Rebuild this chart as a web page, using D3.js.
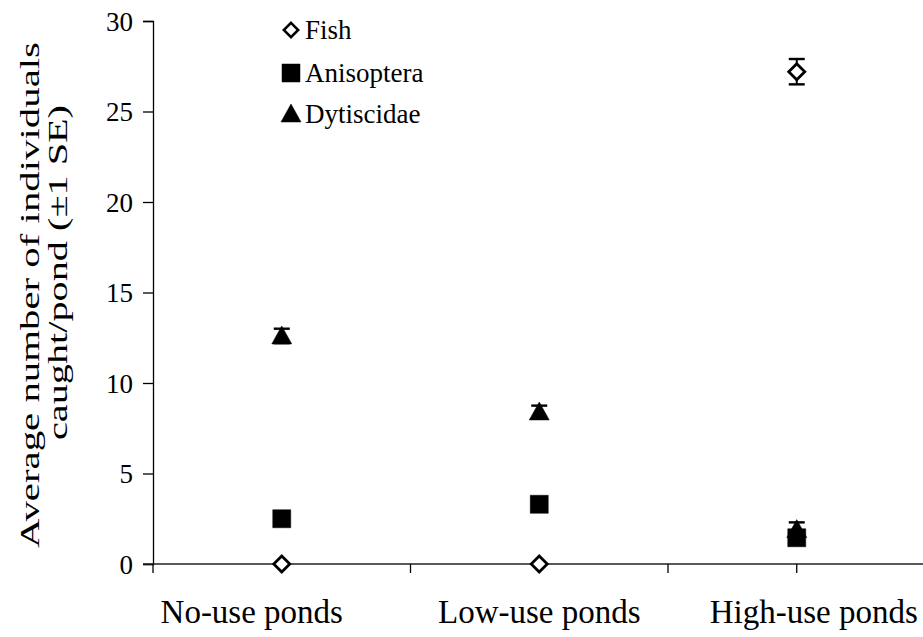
<!DOCTYPE html>
<html>
<head>
<meta charset="utf-8">
<script src="https://cdn.jsdelivr.net/npm/d3@7"></script>
<style>
  body { margin: 0; background: #fff; }
  svg text { font-family: "Liberation Serif", "Times New Roman", serif !important; fill: #000; }
</style>
</head>
<body>
<div id="visualization_container"></div>
<script>
var width = 923;
var height = 637;

// data
var categories = ["No-use ponds", "Low-use ponds", "High-use ponds"];
var fishMean = [0, 0, 27.2];
var fishSE = [0.05, 0.05, 0.7];
var anisMean = [2.5, 3.3, 1.45];
var anisSE = [0.2, 0.2, 0.2];
var dytiMean = [12.6, 8.4, 1.9];
var dytiSE = [0.4, 0.35, 0.4];
var yTicks = [0, 5, 10, 15, 20, 25, 30];

var series = [
    {name: "Fish", mean: fishMean, se: fishSE, shape: "diamond"},
    {name: "Anisoptera", mean: anisMean, se: anisSE, shape: "square"},
    {name: "Dytiscidae", mean: dytiMean, se: dytiSE, shape: "triangle"}
];

var margin = {top: 21, right: 0, bottom: 73, left: 153};

var svg = d3.select("#visualization_container")
    .append("svg")
    .attr("width", width)
    .attr("height", height);

var x = d3.scaleBand()
    .domain(categories)
    .range([margin.left, margin.left + 3 * 257.5]);

var y = d3.scaleLinear()
    .domain([0, 30])
    .range([height - margin.bottom, margin.top]);

// y axis
var yAxis = svg.append("g")
    .attr("transform", "translate(" + margin.left + ",0)")
    .call(d3.axisLeft(y).tickValues(yTicks).tickSize(10).tickPadding(10));
yAxis.select(".domain").attr("stroke", "#000").attr("stroke-width", 1.3);
yAxis.selectAll(".tick line").attr("stroke-width", 1.3);
yAxis.selectAll("text")
    .style("font-size", "27px")
    .attr("dy", "0.34em");

// x axis: ticks between categories
var xAxisG = svg.append("g").attr("transform", "translate(0," + y(0) + ")");
xAxisG.append("line")
    .attr("x1", margin.left - 10).attr("x2", width)
    .attr("y1", 0).attr("y2", 0)
    .attr("stroke", "#222").attr("stroke-width", 1.3);
var tickX = categories.map(c => x(c)).concat([x(categories[2]) + x.bandwidth() / 2]);
xAxisG.selectAll(".xtick")
    .data(tickX)
    .enter().append("line")
    .attr("class", "xtick")
    .attr("x1", d => d).attr("x2", d => d)
    .attr("y1", 0).attr("y2", 9)
    .attr("stroke", "#000").attr("stroke-width", 1.3);
// labels sit a little off-centre in the original
var labelShift = [-30, 0, 17];
xAxisG.selectAll(".xlab")
    .data(categories)
    .enter().append("text")
    .attr("class", "xlab")
    .attr("x", (d, i) => x(d) + x.bandwidth() / 2 + labelShift[i])
    .attr("y", 59)
    .attr("text-anchor", "middle")
    .style("font-size", "33px")
    .text(d => d);

// y axis title (stretched along its length like the scan)
svg.append("text")
    .attr("transform", "translate(39,548) rotate(-90)")
    .attr("textLength", 506)
    .attr("lengthAdjust", "spacingAndGlyphs")
    .style("font-size", "27px")
    .text("Average number of individuals");
svg.append("text")
    .attr("transform", "translate(67,440) rotate(-90)")
    .attr("textLength", 335)
    .attr("lengthAdjust", "spacingAndGlyphs")
    .style("font-size", "27px")
    .text("caught/pond (\u00b11 SE)");

function symbolPath(shape) {
    if (shape === "diamond") return "M0,-8L8,0L0,8L-8,0Z";
    if (shape === "square") return "M-9,-9H9V9H-9Z";
    return "M0,-10L10,8H-10Z";
}

function drawMarker(g, shape) {
    g.append("path")
        .attr("d", symbolPath(shape))
        .attr("fill", shape === "diamond" ? "#fff" : "#000")
        .attr("stroke", "#000")
        .attr("stroke-width", shape === "diamond" ? 2.8 : 0.5)
        .attr("stroke-linejoin", "miter");
}

// points with error bars
series.forEach(function(s) {
    var g = svg.append("g");
    categories.forEach(function(c, i) {
        var cx = x(c) + x.bandwidth() / 2;
        var hi = y(s.mean[i] + s.se[i]);
        var lo = y(s.mean[i] - s.se[i]);
        if (s.se[i] > 0.1) {
            g.append("line").attr("x1", cx).attr("x2", cx).attr("y1", hi).attr("y2", lo)
                .attr("stroke", "#000").attr("stroke-width", 2);
            [hi, lo].forEach(function(v) {
                g.append("line").attr("x1", cx - 8).attr("x2", cx + 8).attr("y1", v).attr("y2", v)
                    .attr("stroke", "#000").attr("stroke-width", 2.4);
            });
        }
        var m = g.append("g").attr("transform", "translate(" + cx + "," + y(s.mean[i]) + ")");
        drawMarker(m, s.shape);
    });
});

// legend
var legendY = [30, 73, 114];
var legend = svg.append("g").attr("transform", "translate(291,0)");
series.forEach(function(s, i) {
    var row = legend.append("g").attr("transform", "translate(0," + legendY[i] + ")");
    var mk = row.append("g").attr("transform", s.shape === "diamond" ? "scale(0.9)" : "scale(1)");
    drawMarker(mk, s.shape);
    row.append("text")
        .attr("x", 14)
        .attr("y", 9)
        .style("font-size", "27px")
        .text(s.name);
});
</script>
</body>
</html>
